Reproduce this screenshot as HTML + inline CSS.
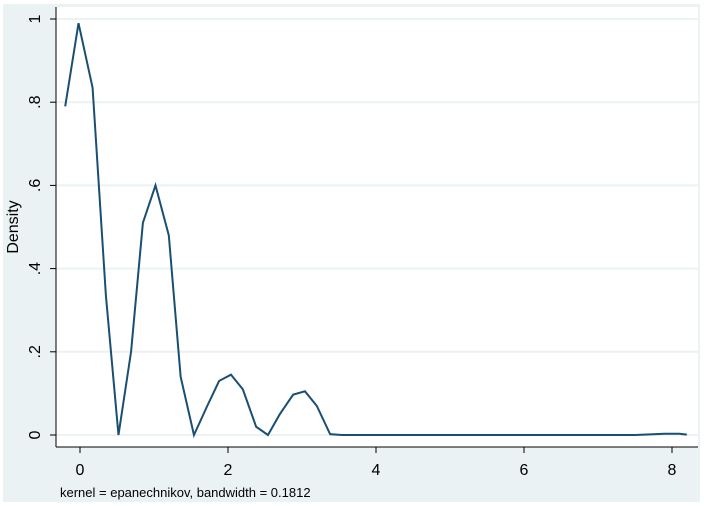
<!DOCTYPE html>
<html><head><meta charset="utf-8"><style>
html,body{margin:0;padding:0;background:#fff;}
svg{display:block;font-family:"Liberation Sans",sans-serif;}
</style></head><body>
<svg id="chart" width="704" height="506">
<rect x="3" y="4" width="697" height="498" fill="#eaf2f3"/>
<rect x="56" y="7" width="642" height="440" fill="#fff"/>
<g id="grid"></g>
<g id="axes"></g>
<path id="line" fill="none" stroke="#1a4f72" stroke-width="2"/>
<text x="18" y="227" font-size="16" text-anchor="middle" transform="rotate(-90 18 227)">Density</text>
<text x="60" y="497" font-size="13">kernel = epanechnikov, bandwidth = 0.1812</text>
</svg>
<script>
const xs=[-0.2,-0.02,0.17,0.35,0.52,0.69,0.85,1.02,1.2,1.36,1.54,1.72,1.88,2.04,2.2,2.38,2.54,2.7,2.88,3.04,3.2,3.38,3.54,4,5,6,7,7.5,7.9,8.1,8.2];
const ys=[0.79,0.99,0.835,0.335,0,0.2,0.51,0.6,0.48,0.14,0,0.07,0.13,0.145,0.11,0.02,0,0.05,0.097,0.105,0.07,0.002,0,0,0,0,0,0,0.003,0.003,0.001];
const xTicks=[0,2,4,6,8];
const yTicks=[0,0.2,0.4,0.6,0.8,1];
const yLabels=["0",".2",".4",".6",".8","1"];
const X=v=>80+v*74, Y=v=>435-v*416;
const ns="http://www.w3.org/2000/svg";
const grid=document.getElementById('grid'), axes=document.getElementById('axes');
function mk(tag,attrs,parent){const e=document.createElementNS(ns,tag);for(const k in attrs)e.setAttribute(k,attrs[k]);parent.appendChild(e);return e;}
yTicks.forEach((t,i)=>{
 const g=mk('line',{x1:56,x2:698,y1:Y(t),y2:Y(t),stroke:'#eaf2f3','stroke-width':2},grid);
 
 
 const tk=mk('line',{x1:50,x2:56,y1:Y(t),y2:Y(t),stroke:'#000'},axes);
 
 
 const tx=mk('text',{x:40,y:Y(t),'font-size':16,'text-anchor':'middle',transform:`rotate(-90 40 ${Y(t)})`},axes);
 tx.textContent=yLabels[i];
 
 
});
xTicks.forEach(t=>{
 const tk=mk('line',{x1:X(t),x2:X(t),y1:447,y2:453,stroke:'#000'},axes);
 
 
 const tx=mk('text',{x:X(t),y:475,'font-size':16,'text-anchor':'middle'},axes);
 tx.textContent=t;
 
 
});
const la=mk('line',{x1:56,x2:56,y1:7,y2:447,stroke:'#000'},axes);


const lb=mk('line',{x1:56,x2:698,y1:447,y2:447,stroke:'#000'},axes);


document.getElementById('line').setAttribute('d',xs.map((x,i)=>(i?'L':'M')+X(x)+','+Y(ys[i])).join(''));
</script>
</body></html>
